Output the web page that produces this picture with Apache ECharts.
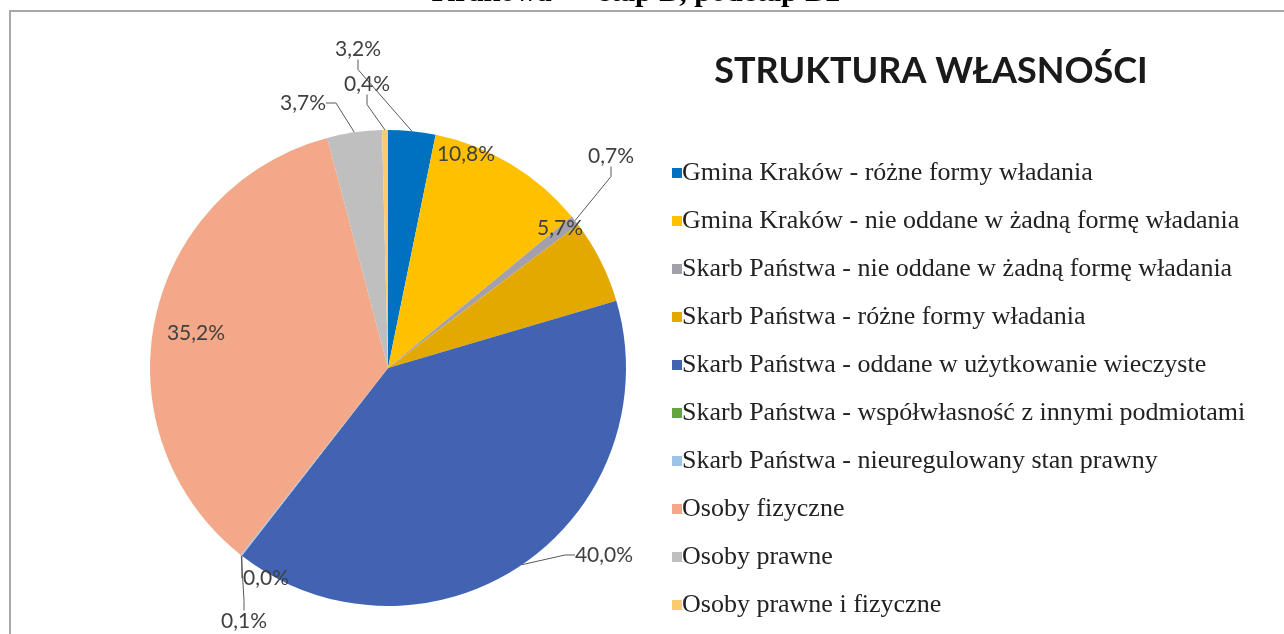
<!DOCTYPE html>
<html>
<head>
<meta charset="utf-8">
<script src="https://cdn.jsdelivr.net/npm/echarts@6/dist/echarts.min.js"></script>
<style>
html,body{margin:0;padding:0;background:#fff;}
#chart{width:1284px;height:634px;}
</style>
</head>
<body>
<div id="chart"></div>
<script>
const categories = [
  'Gmina Kraków - różne formy władania',
  'Gmina Kraków - nie oddane w żadną formę władania',
  'Skarb Państwa - nie oddane w żadną formę władania',
  'Skarb Państwa - różne formy władania',
  'Skarb Państwa - oddane w użytkowanie wieczyste',
  'Skarb Państwa - współwłasność z innymi podmiotami',
  'Skarb Państwa - nieuregulowany stan prawny',
  'Osoby fizyczne',
  'Osoby prawne',
  'Osoby prawne i fizyczne'
];
const values = [3.2, 10.8, 0.7, 5.7, 40.0, 0.0, 0.1, 35.2, 3.7, 0.4];

const colors = ['#0070C0','#FFC000','#A3A0AC','#E3A900','#4163B2','#63A541','#9DC3E6','#F3A989','#BFBFBF','#F8CB6E'];
// label placement (style only): [x, y, inside?]
const labelPlace = [
  [358, 49, false],
  [466, 154, true],
  [611, 156, false],
  [560, 228, true],
  [604, 555, false],
  [266, 578, false],
  [244, 621, false],
  [196, 333, true],
  [303, 103, false],
  [367, 84, false]
];

const chart = echarts.init(document.getElementById('chart'), null, {renderer:'canvas'});
const fmt = v => v.toFixed(1).replace('.', ',') + '%';

const option = {
  backgroundColor: '#fff',
  animation: false,
  color: colors,
  title: {
    text: 'STRUKTURA WŁASNOŚCI',
    left: 926, top: 48, textAlign: 'center',
    textStyle: {fontFamily: 'Lato', fontWeight: 'bold', fontSize: 36, color: '#1a1a1a'}
  },
  legend: {
    orient: 'vertical',
    left: 667, top: 155,
    itemWidth: 10, itemHeight: 10, itemGap: 22,
    icon: 'rect',
    selectedMode: false,
    textStyle: {fontFamily: 'Liberation Serif', fontSize: 26, lineHeight: 24, color: '#222', padding: [0,0,0,-5]},
    data: categories
  },
  graphic: [
    {type: 'line', shape: {x1: 9, y1: 11, x2: 1284, y2: 11}, style: {stroke: '#a8a8a8', lineWidth: 2}},
    {type: 'line', shape: {x1: 10, y1: 10, x2: 10, y2: 634}, style: {stroke: '#a8a8a8', lineWidth: 2}},
    {type: 'text', x: 636, y: 8, style: {text: 'Krakowa — etap B, podetap B2', font: 'bold 30px "Liberation Serif"', fill: '#000', align: 'center', verticalAlign: 'bottom'}}
  ],
  series: [{
    type: 'pie',
    center: [388, 368],
    radius: 238,
    startAngle: 90,
    clockwise: true,
    avoidLabelOverlap: false,
    stillShowZeroSum: true,
    itemStyle: {borderWidth: 0},
    label: {
      show: true,
      position: 'outside',
      formatter: p => fmt(p.value),
      fontFamily: 'Lato', fontSize: 21, color: '#404040'
    },
    labelLine: {show: true, length: 10, length2: 10, lineStyle: {color: '#595959', width: 1}},
    labelLayout: function (params) {
      const pl = labelPlace[params.dataIndex];
      return {x: pl[0], y: pl[1], align: 'center', verticalAlign: 'middle'};
    },
    emphasis: {disabled: true},
    data: categories.map((c, i) => ({
      name: c, value: values[i],
      labelLine: {show: !labelPlace[i][2]}
    }))
  }]
};
chart.setOption(option);
</script>
</body>
</html>
